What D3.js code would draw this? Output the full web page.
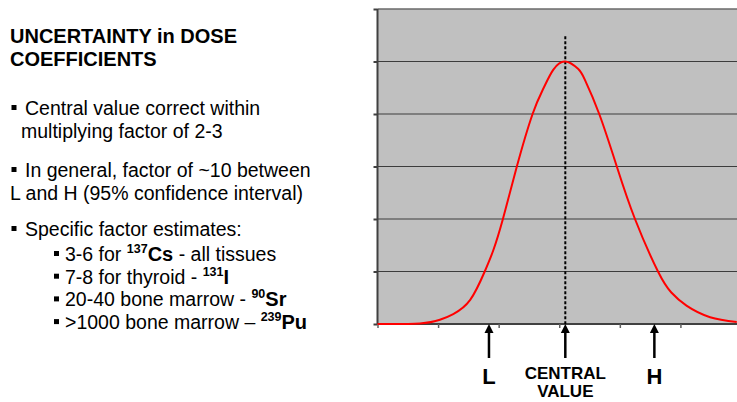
<!DOCTYPE html>
<html>
<head>
<meta charset="utf-8">
<script src="https://cdn.jsdelivr.net/npm/d3@7"></script>
<style>
  html, body { margin: 0; padding: 0; background: #fff; }
  svg { display: block; font-family: "Liberation Sans", Arial, sans-serif; }
</style>
</head>
<body>
<svg id="chart" width="737" height="402"></svg>
<script>
// curve (x in tick units, y in grid units)
const curveX = [0, 0.70, 1.03, 1.25, 1.53, 1.77, 1.91, 2.07, 2.30, 2.56, 2.74, 2.90, 3.10,
                3.31, 3.42, 3.66, 3.95, 4.25, 4.63, 4.85, 5.10, 5.49, 5.93];
const curveY = [0, 0.01, 0.08, 0.19, 0.46, 1.0, 1.40, 2.0, 3.0, 4.0, 4.49, 4.84, 5.0,
                4.86, 4.66, 4.0, 3.0, 2.0, 1.0, 0.60, 0.35, 0.13, 0.04];

// markers under the axis
const markerLabels = ["L", "CENTRAL VALUE", "H"];
const markerPos = [1.84, 3.10, 4.57];
const centralValue = 3.10;
const dashTop = 5.48;

const xTicks = [0, 1, 2, 3, 4, 5, 6];
const yTicks = [0, 1, 2, 3, 4, 5, 6];

const svg = d3.select("#chart");

const x = d3.scaleLinear().domain([0, 6]).range([377.5, 741]);
const y = d3.scaleLinear().domain([0, 6]).range([324, 9]);

// ----- chart on the right -----
svg.append("rect")
    .attr("x", x(0)).attr("y", y(6))
    .attr("width", 737 - x(0)).attr("height", y(0) - y(6))
    .attr("fill", "#c0c0c0");

// gridlines
svg.append("g")
    .selectAll("line")
    .data(yTicks.slice(1))
    .join("line")
    .attr("x1", x(0)).attr("x2", 737)
    .attr("y1", d => y(d)).attr("y2", d => y(d))
    .attr("stroke", d => d === 6 ? "#6a6a6a" : "#3c3c3c")
    .attr("stroke-width", d => d === 6 ? 1.5 : 1.2);

// axes
const yAxis = svg.append("g")
    .attr("transform", `translate(${x(0)},0)`)
    .call(d3.axisLeft(y).tickValues(yTicks).tickSize(4).tickFormat(""));
yAxis.selectAll("path, line").attr("stroke", "#404040").attr("stroke-width", 2);
yAxis.select(".domain").attr("d", `M0,${y(6)}V${y(0)}`);

const xAxis = svg.append("g")
    .attr("transform", `translate(0,${y(0)})`)
    .call(d3.axisBottom(x).tickValues(xTicks).tickSize(4).tickFormat(""));
xAxis.selectAll("line").attr("stroke", "#606060").attr("stroke-width", 1.5);
xAxis.select(".domain").attr("d", `M${x(0)},0H737`).attr("stroke", "#404040").attr("stroke-width", 2);

// dashed central line
svg.append("line")
    .attr("x1", x(centralValue)).attr("x2", x(centralValue))
    .attr("y1", y(dashTop)).attr("y2", y(0))
    .attr("stroke", "#000").attr("stroke-width", 2)
    .attr("stroke-dasharray", "3,2");

// red curve
const pts = curveX.map((d, i) => [d, curveY[i]]);
svg.append("path")
    .datum(pts)
    .attr("fill", "none")
    .attr("stroke", "#ff0000")
    .attr("stroke-width", 2)
    .attr("d", d3.line().x(d => x(d[0])).y(d => y(d[1])).curve(d3.curveNatural));

// arrows + labels
const marks = svg.append("g");
markerPos.forEach((p, i) => {
    const cx = x(p);
    marks.append("line")
        .attr("x1", cx).attr("x2", cx)
        .attr("y1", y(0) + 6).attr("y2", 358)
        .attr("stroke", "#000").attr("stroke-width", 2.5);
    marks.append("path")
        .attr("d", `M${cx},${y(0)}L${cx - 4.5},${y(0) + 9}L${cx + 4.5},${y(0) + 9}Z`)
        .attr("fill", "#000");
    const words = markerLabels[i].split(" ");
    if (words.length === 1) {
        marks.append("text")
            .attr("x", cx).attr("y", 384)
            .attr("text-anchor", "middle")
            .attr("font-size", 22).attr("font-weight", "bold")
            .text(words[0]);
    } else {
        words.forEach((w, j) => {
            marks.append("text")
                .attr("x", cx).attr("y", 379 + j * 18)
                .attr("text-anchor", "middle")
                .attr("font-size", 17).attr("font-weight", "bold")
                .text(w);
        });
    }
});

// ----- text block on the left -----
const txt = svg.append("g");
const bodySize = 19.5;

txt.append("text").attr("x", 10).attr("y", 43)
    .attr("font-size", 20).attr("font-weight", "bold")
    .text("UNCERTAINTY in DOSE");
txt.append("text").attr("x", 10).attr("y", 66)
    .attr("font-size", 20).attr("font-weight", "bold")
    .text("COEFFICIENTS");

const bullet = (bx, by) => txt.append("rect")
    .attr("x", bx).attr("y", by - 10).attr("width", 5).attr("height", 5).attr("fill", "#000");

const line = (tx, ty, s) => txt.append("text")
    .attr("x", tx).attr("y", ty).attr("font-size", bodySize).text(s);

bullet(11.5, 115);
line(25, 115, "Central value correct within");
line(21, 138, "multiplying factor of 2-3");

bullet(11.5, 177);
line(25, 177, "In general, factor of ~10 between");
line(10, 200, "L and H (95% confidence interval)");

bullet(11.5, 236);
line(25, 236, "Specific factor estimates:");

const subItems = [
    ["3-6 for ", "137", "Cs", " - all tissues"],
    ["7-8 for thyroid -  ", "131", "I", ""],
    ["20-40 bone marrow - ", "90", "Sr", ""],
    [">1000 bone marrow \u2013 ", "239", "Pu", ""]
];
subItems.forEach((it, i) => {
    const by = 261 + i * 22.7;
    bullet(54, by);
    const t = txt.append("text").attr("x", 65).attr("y", by).attr("font-size", bodySize);
    t.append("tspan").text(it[0]);
    t.append("tspan").attr("font-size", 12.5).attr("font-weight", "bold").attr("dy", -8).text(it[1]);
    t.append("tspan").attr("font-size", 20).attr("font-weight", "bold").attr("dy", 8).text(it[2]);
    if (it[3]) t.append("tspan").text(it[3]);
});
</script>
</body>
</html>
